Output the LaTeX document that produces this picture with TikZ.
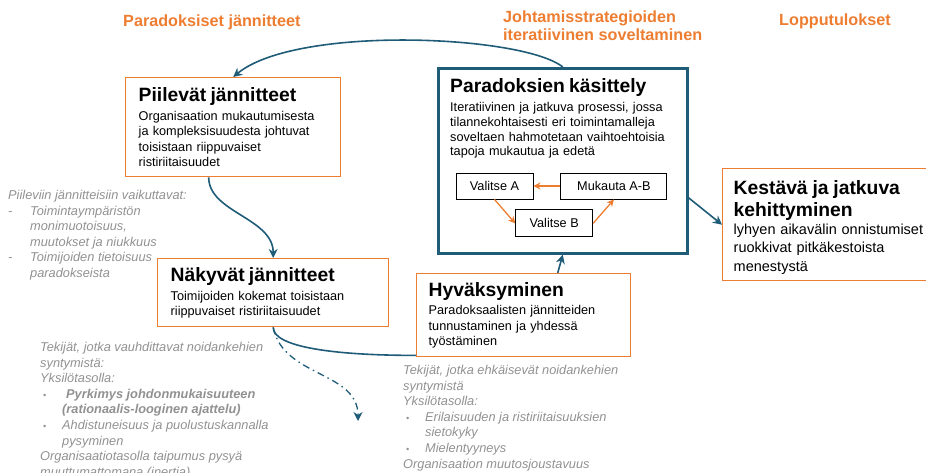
\documentclass[tikz,border=0pt]{standalone}
\usepackage{fontspec}
\setmainfont{Liberation Sans}
\usepackage{xcolor}
\usepackage{tikz}
\usetikzlibrary{arrows.meta, positioning, calc}
\definecolor{paraorange}{RGB}{237,125,49}
\definecolor{parateal}{RGB}{30,92,120}
\definecolor{paragray}{RGB}{145,145,145}
\newcommand{\boxtitlefont}{\fontsize{19.3}{22}\selectfont\bfseries}
\newcommand{\boxtextfont}{\fontsize{12.7}{15.3}\selectfont}
\newcommand{\notefont}{\fontsize{12.8}{15.6}\selectfont\itshape}
\newcommand{\headfont}{\fontsize{16.2}{18}\selectfont\bfseries}
\newcommand{\notedash}{\makebox[22pt][l]{-}}
\newcommand{\notebullet}{\makebox[22pt][l]{\hspace{3pt}{\fontsize{9}{9}\selectfont •}}}
\newcommand{\noteindent}{\hspace*{22pt}}
\tikzstyle{tealarrow} = [draw=parateal, line width=1.6pt, -{Stealth[length=9pt, width=9pt]}]
\tikzstyle{tealline} = [draw=parateal, line width=1.6pt]
\tikzstyle{orangearrow} = [draw=paraorange, line width=1.3pt, -{Stealth[length=7pt, width=7pt]}]
\tikzstyle{tensionbox} = [rectangle, draw=paraorange, line width=1.4pt, fill=white, anchor=north west, align=left, inner xsep=12pt, inner ysep=4pt, font=\boxtextfont]
\tikzstyle{choicebox} = [rectangle, draw=black, line width=0.9pt, minimum height=26pt, font=\boxtextfont]
\tikzstyle{headingtext} = [anchor=west, align=left, inner sep=0pt, text=paraorange, font=\headfont]
\tikzstyle{notetext} = [anchor=north west, align=left, inner sep=0pt, text=paragray, font=\notefont]

\begin{document}
\begin{tikzpicture}[x=1pt, y=-1pt]
    \useasboundingbox (0,0) rectangle (926,473);
    \clip (0,0) rectangle (926,473);

    % Otsikot
    \node (hdjannite) [headingtext] at (123,22) {Paradoksiset jännitteet};
    \node (hdstrategia) [headingtext] at (503,26) {Johtamisstrategioiden\\iteratiivinen soveltaminen};
    \node (hdtulos) [headingtext] at (779,21) {Lopputulokset};

    % Jännitteet
    \node (piilevat) [tensionbox, text width=189pt, minimum height=99pt, inner xsep=13pt] at (125,77) {{\boxtitlefont Piilevät jännitteet}\\[3.5pt]
        Organisaation mukautumisesta\\ja kompleksisuudesta johtuvat\\toisistaan riippuvaiset\\ristiriitaisuudet};
    \node (nakyvat) [tensionbox, text width=205pt, minimum height=68pt, inner xsep=13pt] at (157,258) {{\boxtitlefont Näkyvät jännitteet}\\[3.5pt]
        Toimijoiden kokemat toisistaan\\riippuvaiset ristiriitaisuudet};
    \node (hyvaksyminen) [tensionbox, text width=190pt, minimum height=83pt] at (416,273) {{\boxtitlefont Hyväksyminen}\\[3.5pt]
        Paradoksaalisten jännitteiden\\tunnustaminen ja yhdessä\\työstäminen};

    % Paradoksien käsittely
    \node (kasittely) [draw=parateal, line width=2.6pt, minimum width=249pt, minimum height=185pt, anchor=north west] at (437,67) {};
    \node (kasittelyteksti) [anchor=base west, inner sep=0pt, text width=223pt, align=left, font=\fontsize{12.7}{14.7}\selectfont] at ([shift={(13pt,-26pt)}]kasittely.north west) {{\boxtitlefont Paradoksien käsittely}\\[4pt]
        Iteratiivinen ja jatkuva prosessi, jossa\\tilannekohtaisesti eri toimintamalleja\\soveltaen hahmotetaan vaihtoehtoisia\\tapoja mukautua ja edetä};
    \node (valitsea) [choicebox, minimum width=77pt] at (494.5,186) {Valitse A};
    \node (mukauta) [choicebox, minimum width=106pt, right=27pt of valitsea] {Mukauta A-B};
    \node (valitseb) [choicebox, minimum width=77pt, minimum height=27pt, anchor=north] at ($(valitsea.south)!0.5!(mukauta.south)+(0,10)$) {Valitse B};
    \draw [orangearrow] (mukauta) -- (valitsea);
    \draw [orangearrow] (valitsea.south) -- (valitseb.west);
    \draw [orangearrow] (valitseb.east) -- (mukauta.south);

    % Lopputulos
    \node (kestava) [tensionbox, text width=208pt, minimum height=112pt, inner xsep=11pt, font=\fontsize{14.5}{18.5}\selectfont] at (722,168) {{\boxtitlefont\rule{0pt}{20pt}Kestävä ja jatkuva}\\[3.5pt]{\boxtitlefont kehittyminen}\\[-1pt]
        lyhyen aikavälin onnistumiset\\ruokkivat pitkäkestoista\\menestystä};

    % Yhteydet
    \coordinate (kehaloppu) at (358,421);
    \draw [tealarrow] (kasittely.north) .. controls +(-40,-32) and +(63,-52) .. (piilevat.north);
    \draw [tealarrow] ([xshift=-24.5pt]piilevat.south) .. controls +(0,35) and +(0,-40) .. (nakyvat.north);
    \draw [tealline] (nakyvat.south) .. controls +(0,20) and +(-80,0) .. ([yshift=2pt]hyvaksyminen.south west);
    \draw [tealarrow, line width=1.3pt, dash pattern=on 7pt off 4pt on 1.5pt off 4pt] (nakyvat.south) .. controls +(10,50) and +(0,-50) .. (kehaloppu);
    \draw [tealarrow] ([xshift=34pt]hyvaksyminen.north) -- (kasittely.south);
    \draw [tealarrow] ([yshift=-37pt]kasittely.east) -- (kestava.west);

    % Tekijät
    \node (vaikuttavat) [notetext] at (8,190) {Piileviin jännitteisiin vaikuttavat:\\
        \notedash Toimintaympäristön\\\noteindent monimuotoisuus,\\\noteindent muutokset ja niukkuus\\
        \notedash Toimijoiden tietoisuus\\\noteindent paradokseista};
    \node (vauhdittavat) [notetext] at (40,342) {Tekijät, jotka vauhdittavat noidankehien\\syntymistä:\\Yksilötasolla:\\
        \notebullet\hspace{4pt}\textbf{Pyrkimys johdonmukaisuuteen}\\\noteindent\textbf{(rationaalis-looginen ajattelu)}\\
        \notebullet Ahdistuneisuus ja puolustuskannalla\\\noteindent pysyminen\\
        Organisaatiotasolla taipumus pysyä\\muuttumattomana (inertia)};
    \node (ehkaisevat) [notetext] at (403,365) {Tekijät, jotka ehkäisevät noidankehien\\syntymistä\\Yksilötasolla:\\
        \notebullet Erilaisuuden ja ristiriitaisuuksien\\\noteindent sietokyky\\
        \notebullet Mielentyyneys\\
        Organisaation muutosjoustavuus};
\end{tikzpicture}
\end{document}
